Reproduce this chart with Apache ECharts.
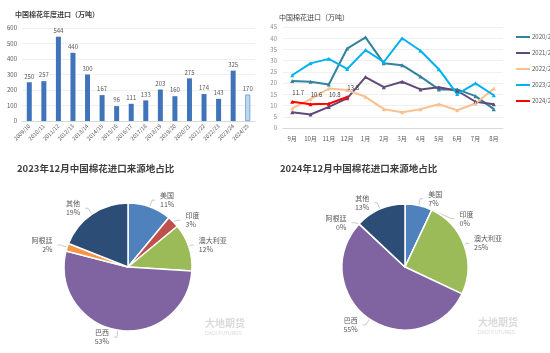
<!DOCTYPE html>
<html>
<head>
<meta charset="utf-8">
<script src="https://cdn.jsdelivr.net/npm/echarts@6/dist/echarts.min.js"></script>
<style>
  html, body { margin: 0; padding: 0; background: #fff; }
  #main { width: 550px; height: 353px; }
</style>
</head>
<body>
<div id="main"></div>
<script>
// 年度进口
const years = ['2009/10', '2010/11', '2011/12', '2012/13', '2013/14', '2014/15', '2015/16', '2016/17',
  '2017/18', '2018/19', '2019/20', '2020/21', '2021/22', '2022/23', '2023/24', '2024/25']
const yearImports = [250, 257, 544, 440, 300, 167, 96, 111, 133, 203, 160, 275, 174, 143, 325, 170]

// 月度进口
const months = ['9月', '10月', '11月', '12月', '1月', '2月', '3月', '4月', '5月', '6月', '7月', '8月']
const m2020 = [20.9, 20.6, 19.4, 35.4, 40.4, 28.8, 28.0, 22.9, 17.2, 17.2, 14.2, 8.4]
const m2021 = [7.0, 6.0, 9.4, 13.2, 22.7, 18.2, 20.6, 17.2, 18.2, 16.6, 11.7, 10.6]
const m2022 = [8.7, 12.9, 17.6, 16.9, 13.9, 8.4, 7.0, 8.4, 10.6, 7.9, 10.9, 17.6]
const m2023 = [23.5, 28.8, 30.8, 26.3, 34.7, 29.4, 40.0, 34.4, 26.2, 15.1, 19.9, 14.6]
const m2024 = [11.7, 10.6, 10.8, 13.8]

// 来源地占比
const origins = ['美国', '印度', '澳大利亚', '巴西', '阿根廷', '其他']
const share2023 = [11, 3, 12, 53, 2, 19]
const share2024 = [7, 0, 25, 55, 0, 13]

const pieColors = ['#4F81BD', '#C0504D', '#9BBB59', '#8064A2', '#F79646', '#2C4D75']
const gray = '#595959'
const font = 'Noto Sans CJK SC'

const chart = echarts.init(document.getElementById('main'))

function pieData(vals) {
  return origins.map((n, i) => ({ name: n, value: vals[i], itemStyle: { color: pieColors[i] } }))
}

function lineSeries(name, data, color, extra) {
  return Object.assign({
    name: name,
    type: 'line',
    xAxisIndex: 1,
    yAxisIndex: 1,
    data: data,
    symbol: 'triangle',
    symbolSize: 4,
    lineStyle: { width: 2, color: color },
    itemStyle: { color: color }
  }, extra || {})
}

const pieLabel = {
  fontSize: 7,
  color: gray,
  fontFamily: font,
  lineHeight: 9,
  formatter: '{b}\n{c}%'
}

chart.setOption({
  textStyle: { fontFamily: font },
  title: [
    { text: '中国棉花年度进口（万吨）', left: 10, top: 6, textStyle: { fontSize: 7, fontWeight: 'bold', color: '#404040' } },
    { text: '中国棉花进口（万吨）', left: 274, top: 9, textStyle: { fontSize: 7, fontWeight: 'normal', color: '#404040' } },
    { text: '2023年12月中国棉花进口来源地占比', left: 12, top: 159, textStyle: { fontSize: 9.5, fontWeight: 'bold', color: '#404040' } },
    { text: '2024年12月中国棉花进口来源地占比', left: 275, top: 159, textStyle: { fontSize: 9.5, fontWeight: 'bold', color: '#404040' } }
  ],
  legend: {
    orient: 'vertical',
    left: 510,
    top: 29,
    itemGap: 10,
    itemWidth: 14,
    itemHeight: 2,
    data: ['2020/21', '2021/22', '2022/23', '2023/24', '2024/25'],
    textStyle: { fontSize: 6, color: gray, padding: [0, 0, 0, -3] }
  },
  grid: [
    { left: 22, top: 28, width: 233, height: 93 },
    { left: 283, top: 27, width: 220, height: 101 }
  ],
  xAxis: [
    {
      type: 'category',
      gridIndex: 0,
      data: years,
      axisLine: { lineStyle: { color: '#D9D9D9' } },
      axisTick: { show: false },
      axisLabel: { fontSize: 5.5, color: gray, rotate: 45, interval: 0, margin: 4 }
    },
    {
      type: 'category',
      gridIndex: 1,
      data: months,
      axisLine: { lineStyle: { color: '#D9D9D9' } },
      axisTick: { show: false },
      axisLabel: { fontSize: 6, color: gray, interval: 0, margin: 8 }
    }
  ],
  yAxis: [
    {
      type: 'value',
      gridIndex: 0,
      min: 0,
      max: 600,
      interval: 100,
      axisLine: { show: false },
      axisTick: { show: false },
      splitLine: { lineStyle: { color: '#E6E6E6', width: 0.6 } },
      axisLabel: { fontSize: 6, color: gray, margin: 5 }
    },
    {
      type: 'value',
      gridIndex: 1,
      min: 0,
      max: 45,
      interval: 5,
      axisLine: { show: false },
      axisTick: { show: false },
      splitLine: { lineStyle: { color: '#E6E6E6', width: 0.6 } },
      axisLabel: { fontSize: 6, color: '#8C8C8C', margin: 6 }
    }
  ],
  series: [
    {
      type: 'bar',
      xAxisIndex: 0,
      yAxisIndex: 0,
      barWidth: 5,
      data: yearImports.map((v, i) => i === yearImports.length - 1
        ? { value: v, itemStyle: { color: '#BDD7EE', borderColor: '#4F81BD', borderWidth: 0.6 } }
        : v),
      itemStyle: { color: '#3F74BA' },
      label: { show: true, position: 'top', fontSize: 6, color: gray, distance: 3 }
    },
    lineSeries('2020/21', m2020, '#31849B'),
    lineSeries('2021/22', m2021, '#604A7B'),
    lineSeries('2022/23', m2022, '#FAC090'),
    lineSeries('2023/24', m2023, '#00B0F0'),
    lineSeries('2024/25', m2024, '#FF0000', {
      label: { show: true, position: 'top', fontSize: 6, color: '#404040', distance: 4, offset: [6, 0] }
    }),
    {
      type: 'pie',
      center: [128, 267],
      radius: 64,
      startAngle: 90,
      clockwise: true,
      data: pieData(share2023),
      itemStyle: { borderColor: '#fff', borderWidth: 1.5 },
      label: pieLabel,
      labelLine: { length: 7, length2: 3, lineStyle: { color: '#A6A6A6', width: 0.6 } }
    },
    {
      type: 'pie',
      center: [405, 267],
      radius: 63,
      startAngle: 90,
      clockwise: true,
      data: pieData(share2024),
      itemStyle: { borderColor: '#fff', borderWidth: 1.5 },
      label: pieLabel,
      labelLine: { length: 7, length2: 3, lineStyle: { color: '#A6A6A6', width: 0.6 } }
    }
  ],
  graphic: [
    { type: 'text', left: 205, top: 318, style: { text: '大地期货', fontSize: 10, fontWeight: 'bold', fill: 'rgba(150,150,150,0.35)', fontFamily: font } },
    { type: 'text', left: 205, top: 331, style: { text: 'DADI FUTURES', fontSize: 5, fill: 'rgba(150,150,150,0.35)' } },
    { type: 'text', left: 478, top: 317, style: { text: '大地期货', fontSize: 10, fontWeight: 'bold', fill: 'rgba(150,150,150,0.35)', fontFamily: font } },
    { type: 'text', left: 478, top: 330, style: { text: 'DADI FUTURES', fontSize: 5, fill: 'rgba(150,150,150,0.35)' } }
  ]
})
</script>
</body>
</html>
